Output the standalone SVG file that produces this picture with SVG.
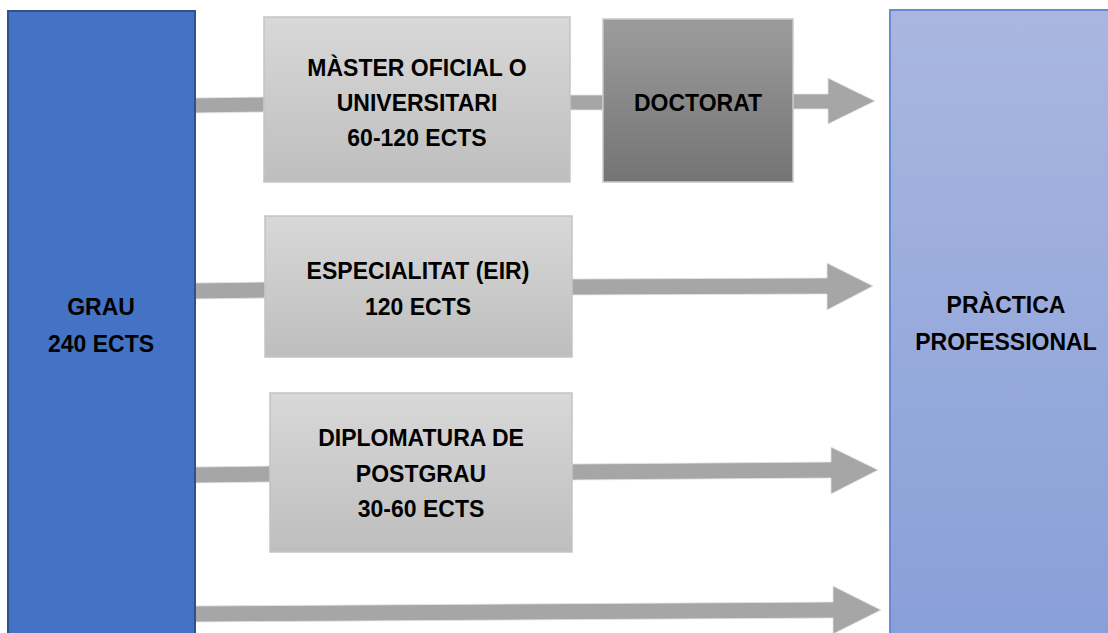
<svg xmlns="http://www.w3.org/2000/svg" width="1108" height="633" viewBox="0 0 1108 633">
<defs>
<linearGradient id="gLight" x1="0" y1="0" x2="0" y2="1"><stop offset="0" stop-color="#D8D8D8"/><stop offset="1" stop-color="#BEBEBE"/></linearGradient>
<linearGradient id="gDark" x1="0" y1="0" x2="0" y2="1"><stop offset="0" stop-color="#9C9C9C"/><stop offset="1" stop-color="#747474"/></linearGradient>
<linearGradient id="gBlue" x1="0" y1="0" x2="0" y2="1"><stop offset="0" stop-color="#A9B7E0"/><stop offset="1" stop-color="#899FD8"/></linearGradient>
<style>
.t{font-family:"Liberation Sans",Arial,sans-serif;font-weight:bold;font-size:23px;fill:#000;text-anchor:middle}
.box{fill:url(#gLight);stroke:#C4C4C4;stroke-width:1.5}
.conn{fill:#A6A6A6;stroke:#E4E4E4;stroke-width:0.8}
</style>
</defs>
<rect width="1108" height="633" fill="#FFFFFF"/>
<g id="connectors">
<polygon class="conn" points="195,98 264,97 264,112 195,113"/>
<polygon class="conn" points="570,95 603,95 603,110 570,110"/>
<polygon class="conn" points="793,94 828,94 828,78 875,101 828,124 828,109 793,109"/>
<polygon class="conn" points="195,283 265,282 265,298 195,299"/>
<polygon class="conn" points="572,279 827,278 827,263 873,286 827,310 827,294 572,295"/>
<polygon class="conn" points="195,467 270,466 270,482 195,483"/>
<polygon class="conn" points="572,464 831,462 831,447 878,470 831,494 831,478 572,480"/>
<polygon class="conn" points="195,606 833,602 833,586 881,610 833,634 833,618 195,622"/>
</g>
<g id="grau">
<rect x="8" y="11" width="187" height="630" fill="#4472C4" stroke="#2F528F" stroke-width="2"/>
<text class="t" x="101" y="315">GRAU</text>
<text class="t" x="101" y="352">240 ECTS</text>
</g>
<g id="practica">
<rect x="890" y="10" width="230" height="630" fill="url(#gBlue)" stroke="#6A8AD3" stroke-width="2"/>
<text class="t" x="1006" y="313">PRÀCTICA</text>
<text class="t" x="1006" y="350">PROFESSIONAL</text>
</g>
<g id="master">
<rect class="box" x="264" y="17" width="306" height="165"/>
<text class="t" x="417" y="76">MÀSTER OFICIAL O</text>
<text class="t" x="417" y="111">UNIVERSITARI</text>
<text class="t" x="417" y="146">60-120 ECTS</text>
</g>
<g id="doctorat">
<rect x="603" y="19" width="190" height="163" fill="url(#gDark)" stroke="#C8C8C8" stroke-width="1.5"/>
<text class="t" x="698" y="111">DOCTORAT</text>
</g>
<g id="especialitat">
<rect class="box" x="265" y="216" width="307" height="141"/>
<text class="t" x="418" y="279">ESPECIALITAT (EIR)</text>
<text class="t" x="418" y="315">120 ECTS</text>
</g>
<g id="diplomatura">
<rect class="box" x="270" y="393" width="302" height="159"/>
<text class="t" x="421" y="446">DIPLOMATURA DE</text>
<text class="t" x="421" y="482">POSTGRAU</text>
<text class="t" x="421" y="517">30-60 ECTS</text>
</g>
</svg>
